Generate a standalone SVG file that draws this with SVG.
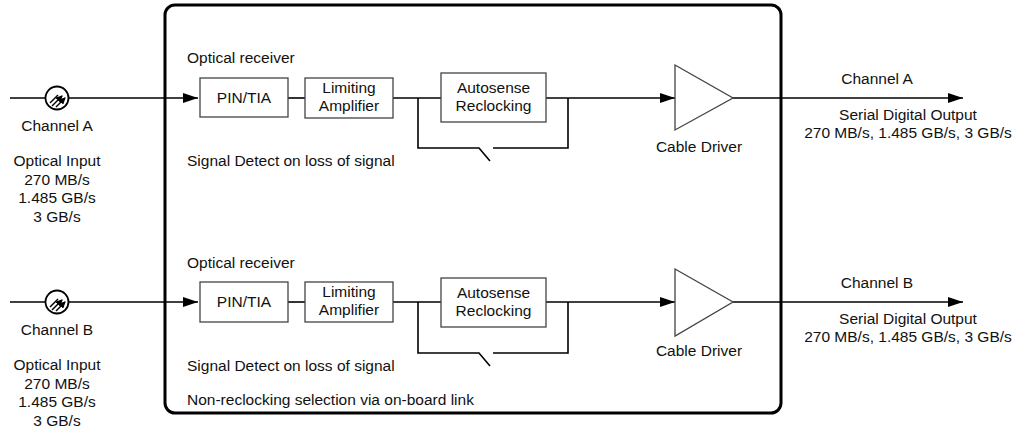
<svg xmlns="http://www.w3.org/2000/svg" width="1025" height="435" viewBox="0 0 1025 435">
<defs>
<marker id="arr" markerWidth="15" markerHeight="10" refX="15" refY="5" orient="auto" markerUnits="userSpaceOnUse">
<path d="M0,0 L15,5 L0,10 Z" fill="#000"/>
</marker>
<marker id="sarr" markerWidth="7" markerHeight="7" refX="6" refY="3.5" orient="auto" markerUnits="userSpaceOnUse">
<path d="M0,0 L7,3.5 L0,7 Z" fill="#000"/>
</marker>
<g id="optsym">
<circle cx="0" cy="0" r="11.5" fill="#fff" stroke="#000" stroke-width="1.8"/>
<line x1="-7" y1="5" x2="1" y2="-3" stroke="#000" stroke-width="1.4"/>
<line x1="-5" y1="8" x2="5" y2="-2" stroke="#000" stroke-width="1.4" marker-end="url(#sarr)"/>
<line x1="-1" y1="9" x2="8" y2="0" stroke="#000" stroke-width="1.4" marker-end="url(#sarr)"/>
</g>
</defs>
<style>
text{font-family:"Liberation Sans",Arial,sans-serif;font-size:15.5px;fill:#111}
.c{text-anchor:middle}
.ln{stroke:#000;stroke-width:1.6;fill:none}
.box{fill:#fff;stroke:#444;stroke-width:1.3}
</style>
<rect width="1025" height="435" fill="#fff"/>
<g id="frame">
<rect x="165" y="5" width="616" height="408" rx="10" fill="none" stroke="#000" stroke-width="3"/>
</g>
<g id="connectors">
<line class="ln" x1="10" y1="98" x2="198" y2="98" marker-end="url(#arr)"/>
<line class="ln" x1="288" y1="98" x2="305" y2="98"/>
<line class="ln" x1="393" y1="98" x2="441" y2="98"/>
<line class="ln" x1="546" y1="98" x2="675" y2="98" marker-end="url(#arr)"/>
<polyline class="ln" points="418,98 418,148 479,148 490,161"/>
<polyline class="ln" points="493,148 568,148 568,98"/>
<line class="ln" x1="733" y1="98" x2="963" y2="98" marker-end="url(#arr)"/>
<line class="ln" x1="10" y1="302" x2="198" y2="302" marker-end="url(#arr)"/>
<line class="ln" x1="288" y1="302" x2="305" y2="302"/>
<line class="ln" x1="393" y1="302" x2="441" y2="302"/>
<line class="ln" x1="546" y1="302" x2="675" y2="302" marker-end="url(#arr)"/>
<polyline class="ln" points="418,302 418,353 479,353 490,366"/>
<polyline class="ln" points="493,353 568,353 568,302"/>
<line class="ln" x1="733" y1="302" x2="963" y2="302" marker-end="url(#arr)"/>
</g>
<g id="inputA">
<use href="#optsym" x="57" y="98"/>
<text class="c" x="57" y="131">Channel A</text>
<text class="c" x="57" y="166">Optical Input</text>
<text class="c" x="57" y="185">270 MB/s</text>
<text class="c" x="57" y="203">1.485 GB/s</text>
<text class="c" x="57" y="222">3 GB/s</text>
</g>
<g id="inputB">
<use href="#optsym" x="57" y="302"/>
<text class="c" x="57" y="335">Channel B</text>
<text class="c" x="57" y="370">Optical Input</text>
<text class="c" x="57" y="389">270 MB/s</text>
<text class="c" x="57" y="407">1.485 GB/s</text>
<text class="c" x="57" y="426">3 GB/s</text>
</g>
<g id="labelsA">
<text x="187" y="63">Optical receiver</text>
<text x="187" y="166">Signal Detect on loss of signal</text>
</g>
<g id="labelsB">
<text x="187" y="268">Optical receiver</text>
<text x="187" y="371">Signal Detect on loss of signal</text>
<text x="187" y="405">Non-reclocking selection via on-board link</text>
</g>
<g id="pinA"><rect class="box" x="200" y="78" width="88" height="39"/><text class="c" x="244" y="103">PIN/TIA</text></g>
<g id="limA"><rect class="box" x="305" y="78" width="88" height="40"/><text class="c" x="349" y="93">Limiting</text><text class="c" x="349" y="111">Amplifier</text></g>
<g id="autoA"><rect class="box" x="441" y="73" width="105" height="49"/><text class="c" x="493.5" y="93">Autosense</text><text class="c" x="493.5" y="111">Reclocking</text></g>
<g id="drvA"><polygon points="675,65 733,98 675,130" fill="#fff" stroke="#444" stroke-width="1.3"/><text class="c" x="699" y="152">Cable Driver</text></g>
<g id="outA">
<text class="c" x="877" y="84">Channel A</text>
<text class="c" x="908" y="120">Serial Digital Output</text>
<text class="c" x="908" y="138">270 MB/s, 1.485 GB/s, 3 GB/s</text>
</g>
<g id="pinB"><rect class="box" x="200" y="282" width="88" height="40"/><text class="c" x="244" y="307">PIN/TIA</text></g>
<g id="limB"><rect class="box" x="305" y="282" width="88" height="40"/><text class="c" x="349" y="297">Limiting</text><text class="c" x="349" y="315">Amplifier</text></g>
<g id="autoB"><rect class="box" x="441" y="278" width="105" height="49"/><text class="c" x="493.5" y="298">Autosense</text><text class="c" x="493.5" y="316">Reclocking</text></g>
<g id="drvB"><polygon points="675,269 733,302 675,336" fill="#fff" stroke="#444" stroke-width="1.3"/><text class="c" x="699" y="356">Cable Driver</text></g>
<g id="outB">
<text class="c" x="877" y="288">Channel B</text>
<text class="c" x="908" y="324">Serial Digital Output</text>
<text class="c" x="908" y="342">270 MB/s, 1.485 GB/s, 3 GB/s</text>
</g>
</svg>
